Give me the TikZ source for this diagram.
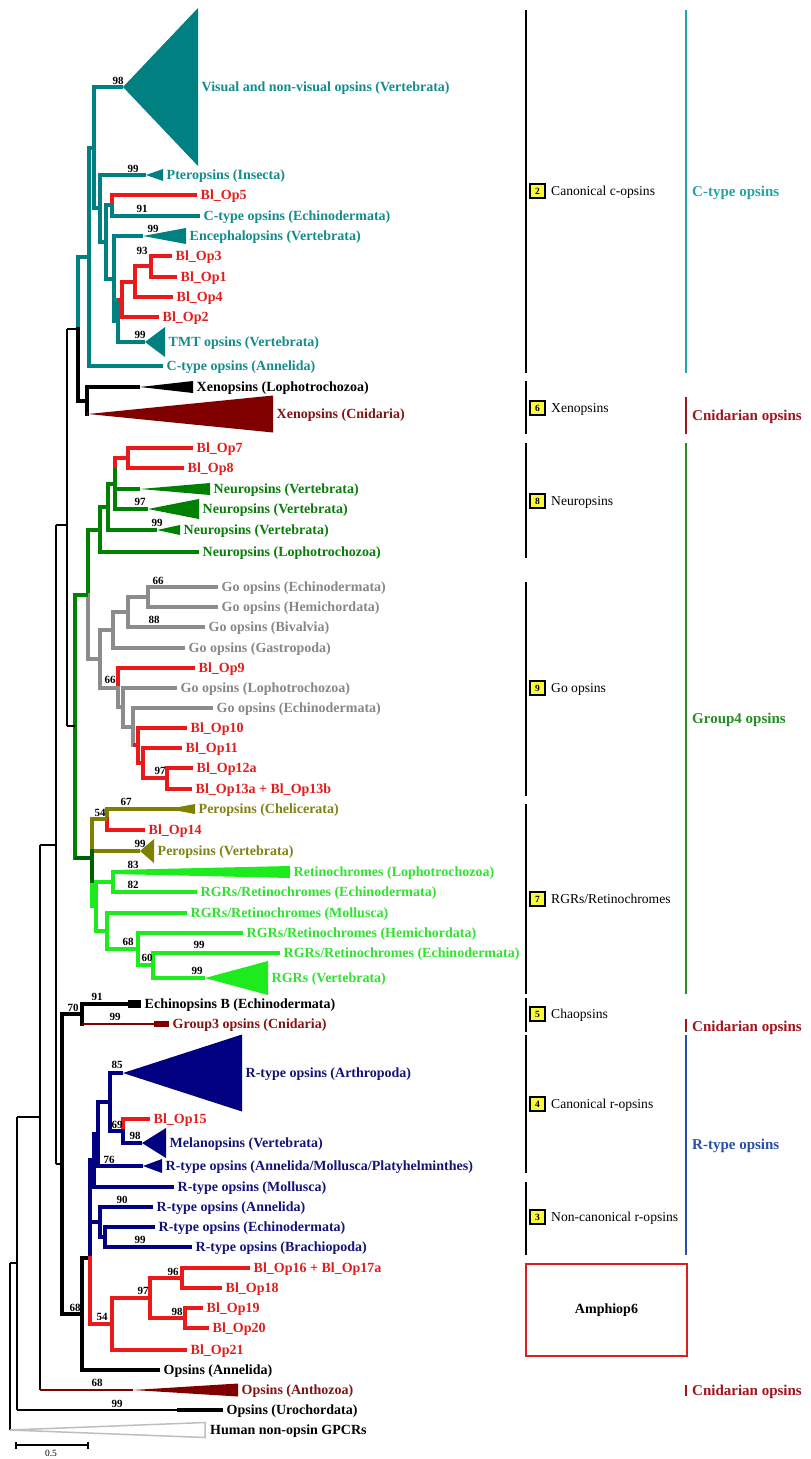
\documentclass[tikz,border=0pt]{standalone}
\usepackage{fontspec}
\setmainfont{Liberation Serif}
\usetikzlibrary{calc}
\definecolor{cteal}{RGB}{0,128,128}
\definecolor{cred}{RGB}{235,25,25}
\definecolor{cdred}{RGB}{128,0,0}
\definecolor{cgreen}{RGB}{0,128,0}
\definecolor{cdgreen}{RGB}{0,95,0}
\definecolor{cgrey}{RGB}{140,140,140}
\definecolor{colive}{RGB}{128,128,0}
\definecolor{clime}{RGB}{30,235,30}
\definecolor{cnavy}{RGB}{0,0,128}
\definecolor{tteal}{RGB}{20,140,140}
\definecolor{tred}{RGB}{225,30,30}
\definecolor{tgreen}{RGB}{10,125,10}
\definecolor{tgrey}{RGB}{135,135,135}
\definecolor{tolive}{RGB}{130,130,20}
\definecolor{tlime}{RGB}{50,225,50}
\definecolor{tnavy}{RGB}{20,20,120}
\definecolor{tdred}{RGB}{130,20,20}
\definecolor{hteal}{RGB}{35,165,165}
\definecolor{hdred}{RGB}{160,20,30}
\definecolor{hgreen}{RGB}{40,140,40}
\definecolor{hblue}{RGB}{40,80,170}
\definecolor{boxyel}{RGB}{250,250,60}
\definecolor{humgrey}{RGB}{190,190,190}
\definecolor{ampred}{RGB}{220,30,30}
\newcommand\BrL[3]{\draw[br,#1] (#2 |- #3) -- (#3.west);}
\newcommand\BrI[3]{\draw[br,#1] (#2 |- #3) -- (#3);}
\newcommand\BrV[4]{\draw[vb,#1] (#2 |- #3) -- (#2 |- #4);}
\newcommand\BrT[5]{\draw[br,#1] (#2 |- #3) -- (#4); \fill[#1] (#4) -- ($(#3.west)+(0,#5)$) -- ($(#3.west)+(0,-#5)$) -- cycle;}
\begin{document}
\begin{tikzpicture}[x=1pt,y=-1pt,
  br/.style={line width=4pt,line cap=butt},
  vb/.style={line width=4pt,line cap=rect},
  tn/.style={line width=1.2pt,black},
  lab/.style={anchor=west,inner xsep=3.5pt,inner ysep=0pt,text height=9.5pt,text depth=0pt,font=\bfseries\fontsize{14}{14}\selectfont},
  sv/.style={inner sep=0pt,font=\bfseries\fontsize{11}{11}\selectfont},
  bar/.style={line width=2.5pt},
  numbox/.style={draw=black,line width=2pt,fill=boxyel,minimum size=14.5pt,inner sep=0pt,font=\bfseries\fontsize{9.5}{9.5}\selectfont},
  cat/.style={anchor=west,inner sep=0pt,text height=8.5pt,text depth=0pt,font=\fontsize{13.6}{13.6}\selectfont},
  hdr/.style={anchor=west,inner sep=0pt,text height=10pt,text depth=0pt,font=\bfseries\fontsize{15}{15}\selectfont}]
\useasboundingbox (0,0) rectangle (811,1459);
\fill[white] (0,0) rectangle (811,1459);

% ---------- leaf labels ----------
\node[lab,text=tteal] (vis) at (198,87) {Visual and non-visual opsins (Vertebrata)};
\node[lab,text=tteal] (pter) at (163,175) {Pteropsins (Insecta)};
\node[lab,text=tred] (op5) at (197,195) {Bl\_Op5};
\node[lab,text=tteal] (cech) at (200,216) {C-type opsins (Echinodermata)};
\node[lab,text=tteal] (enc) at (186,236) {Encephalopsins (Vertebrata)};
\node[lab,text=tred] (op3) at (172,256) {Bl\_Op3};
\node[lab,text=tred] (op1) at (177,277) {Bl\_Op1};
\node[lab,text=tred] (op4) at (173,297) {Bl\_Op4};
\node[lab,text=tred] (op2) at (159,317) {Bl\_Op2};
\node[lab,text=tteal] (tmt) at (165,342) {TMT opsins (Vertebrata)};
\node[lab,text=tteal] (cann) at (163,366) {C-type opsins (Annelida)};
\node[lab,text=black] (xl) at (193,387) {Xenopsins (Lophotrochozoa)};
\node[lab,text=tdred] (xc) at (273,414) {Xenopsins (Cnidaria)};
\node[lab,text=tred] (op7) at (193,448) {Bl\_Op7};
\node[lab,text=tred] (op8) at (184,468) {Bl\_Op8};
\node[lab,text=tgreen] (nv1) at (210,489) {Neuropsins (Vertebrata)};
\node[lab,text=tgreen] (nv2) at (199,509) {Neuropsins (Vertebrata)};
\node[lab,text=tgreen] (nv3) at (180,530) {Neuropsins (Vertebrata)};
\node[lab,text=tgreen] (nl) at (199,552) {Neuropsins (Lophotrochozoa)};
\node[lab,text=tgrey] (ge1) at (218,587) {Go opsins (Echinodermata)};
\node[lab,text=tgrey] (gh) at (218,607) {Go opsins (Hemichordata)};
\node[lab,text=tgrey] (gb) at (205,627) {Go opsins (Bivalvia)};
\node[lab,text=tgrey] (gg) at (185,648) {Go opsins (Gastropoda)};
\node[lab,text=tred] (op9) at (195,668) {Bl\_Op9};
\node[lab,text=tgrey] (gl) at (177,688) {Go opsins (Lophotrochozoa)};
\node[lab,text=tgrey] (ge2) at (213,708) {Go opsins (Echinodermata)};
\node[lab,text=tred] (op10) at (187,728) {Bl\_Op10};
\node[lab,text=tred] (op11) at (182,748) {Bl\_Op11};
\node[lab,text=tred] (op12) at (193,768) {Bl\_Op12a};
\node[lab,text=tred] (op13) at (192,789) {Bl\_Op13a + Bl\_Op13b};
\node[lab,text=tolive] (pc) at (195,809) {Peropsins (Chelicerata)};
\node[lab,text=tred] (op14) at (145,830) {Bl\_Op14};
\node[lab,text=tolive] (pv) at (154,851) {Peropsins (Vertebrata)};
\node[lab,text=tlime] (rl) at (290,872) {Retinochromes (Lophotrochozoa)};
\node[lab,text=tlime] (re1) at (197,892) {RGRs/Retinochromes (Echinodermata)};
\node[lab,text=tlime] (rm) at (187,913) {RGRs/Retinochromes (Mollusca)};
\node[lab,text=tlime] (rh) at (243,933) {RGRs/Retinochromes (Hemichordata)};
\node[lab,text=tlime] (re2) at (280,953) {RGRs/Retinochromes (Echinodermata)};
\node[lab,text=tlime] (rv) at (268,978) {RGRs (Vertebrata)};
\node[lab,text=black] (eb) at (141,1004) {Echinopsins B (Echinodermata)};
\node[lab,text=tdred] (g3) at (169,1024) {Group3 opsins (Cnidaria)};
\node[lab,text=tnavy] (arth) at (242,1073) {R-type opsins (Arthropoda)};
\node[lab,text=tred] (op15) at (150,1119) {Bl\_Op15};
\node[lab,text=tnavy] (mel) at (166,1143) {Melanopsins (Vertebrata)};
\node[lab,text=tnavy] (amp) at (162,1166) {R-type opsins (Annelida/Mollusca/Platyhelminthes)};
\node[lab,text=tnavy] (rmo) at (174,1187) {R-type opsins (Mollusca)};
\node[lab,text=tnavy] (ran) at (153,1207) {R-type opsins (Annelida)};
\node[lab,text=tnavy] (rec) at (155,1227) {R-type opsins (Echinodermata)};
\node[lab,text=tnavy] (rbr) at (192,1247) {R-type opsins (Brachiopoda)};
\node[lab,text=tred] (op16) at (250,1268) {Bl\_Op16 + Bl\_Op17a};
\node[lab,text=tred] (op18) at (222,1288) {Bl\_Op18};
\node[lab,text=tred] (op19) at (203,1308) {Bl\_Op19};
\node[lab,text=tred] (op20) at (209,1328) {Bl\_Op20};
\node[lab,text=tred] (op21) at (187,1350) {Bl\_Op21};
\node[lab,text=black] (oan) at (160,1370) {Opsins (Annelida)};
\node[lab,text=tdred] (anth) at (238,1390) {Opsins (Anthozoa)};
\node[lab,text=black] (uro) at (223,1410) {Opsins (Urochordata)};
\node[lab,text=black,inner xsep=5pt] (hum) at (205,1430) {Human non-opsin GPCRs};

% ---------- internal nodes ----------
\coordinate (r3) at (151,266);
\coordinate (r2) at (135,282);
\coordinate (r1) at (122,300);
\coordinate (ng) at (118,321);
\coordinate (nf) at (114,279);
\coordinate (ne) at (112,205);
\coordinate (nd) at (106,242);
\coordinate (nc) at (100,208);
\coordinate (nb) at (94,148);
\coordinate (na) at (89,257);
\coordinate (nx) at (87,401);
\coordinate (k0) at (78,329);
\coordinate (k1) at (67,525);
\coordinate (k2) at (56,845);
\coordinate (k3) at (40,1117);
\coordinate (k4) at (17,1263);
\coordinate (k5) at (10,1263);
\coordinate (visA) at (123,87);
\coordinate (pterA) at (146,175);
\coordinate (encA) at (143,236);
\coordinate (tmtA) at (145,342);
\coordinate (xlA) at (140,387);
\coordinate (xcA) at (88,414);
\coordinate (r78) at (128,458);
\coordinate (gna) at (115,484);
\coordinate (gnaS) at (115,470);
\coordinate (gnb) at (108,507);
\coordinate (gnc) at (100,530);
\coordinate (gnd) at (88,595);
\coordinate (nv1A) at (140,489);
\coordinate (nv2A) at (148,509);
\coordinate (nv3A) at (157,530);
\coordinate (go1) at (148,597);
\coordinate (go2) at (128,612);
\coordinate (go3) at (113,630);
\coordinate (go4) at (100,659);
\coordinate (gp) at (118,688);
\coordinate (gq) at (123,707);
\coordinate (gr) at (133,727);
\coordinate (gs) at (138,745);
\coordinate (gt) at (143,763);
\coordinate (gu) at (167,778);
\coordinate (o2) at (107,819);
\coordinate (o1) at (92,835);
\coordinate (pvA) at (140,851);
\coordinate (rg2) at (113,882);
\coordinate (rg1) at (96,906);
\coordinate (rg107) at (107,931);
\coordinate (rg138) at (138,949);
\coordinate (rg153) at (153,965);
\coordinate (rvA) at (205,978);
\coordinate (nf4) at (92,858);
\coordinate (nf4b) at (92,885);
\coordinate (ne4) at (75,726);
\coordinate (e70) at (82,1014);
\coordinate (bk) at (62,1164);
\coordinate (n68) at (82,1314);
\coordinate (nb90) at (90,1258);
\coordinate (n112) at (112,1324);
\coordinate (n150) at (150,1298);
\coordinate (n182) at (182,1278);
\coordinate (n185) at (185,1318);
\coordinate (n123) at (123,1131);
\coordinate (n110) at (110,1102);
\coordinate (b1) at (98,1134);
\coordinate (b2) at (94,1160);
\coordinate (b3) at (90,1191);
\coordinate (n100) at (100,1222);
\coordinate (n105) at (105,1237);
\coordinate (arthA) at (123,1073);
\coordinate (melA) at (142,1143);
\coordinate (ampA) at (143,1166);
\coordinate (anthA) at (133,1390);
\coordinate (uroA) at (177,1410);

% ---------- canonical c-opsins ----------
\BrV{cred}{r3}{op3}{op1} \BrL{cred}{r3}{op3} \BrL{cred}{r3}{op1}
\BrV{cred}{r2}{r3}{op4} \BrI{cred}{r2}{r3} \BrL{cred}{r2}{op4}
\BrV{cred}{r1}{r2}{op2} \BrI{cred}{r1}{r2} \BrL{cred}{r1}{op2}
\BrV{cteal}{ng}{r1}{tmt} \BrI{cred}{ng}{r1} \BrT{cteal}{ng}{tmt}{tmtA}{15}
\BrV{cteal}{nf}{enc}{ng} \BrT{cteal}{nf}{enc}{encA}{8} \BrI{cteal}{nf}{ng}
\BrV{cred}{ne}{op5}{ne} \BrV{cteal}{ne}{ne}{cech} \BrL{cred}{ne}{op5} \BrL{cteal}{ne}{cech}
\BrV{cteal}{nd}{ne}{nf} \BrI{cteal}{nd}{ne} \BrI{cteal}{nd}{nf}
\BrV{cteal}{nc}{pter}{nd} \BrT{cteal}{nc}{pter}{pterA}{6} \BrI{cteal}{nc}{nd}
\BrV{cteal}{nb}{vis}{nc} \BrT{cteal}{nb}{vis}{visA}{79} \BrI{cteal}{nb}{nc}
\BrV{cteal}{na}{nb}{cann} \BrI{cteal}{na}{nb} \BrL{cteal}{na}{cann}
% xenopsins
\BrV{black}{nx}{xl}{xc} \BrT{black}{nx}{xl}{xlA}{6}
\fill[cdred] (xcA) -- ($(xc.west)+(0,-18.5)$) -- ($(xc.west)+(0,18.5)$) -- cycle;
\draw[br,cdred] (nx |- xc) -- (xcA);
\BrV{cteal}{k0}{na}{k0} \BrV{black}{k0}{k0}{nx} \BrI{cteal}{k0}{na} \BrI{black}{k0}{nx}

% ---------- group 4 ----------
\BrV{cred}{r78}{op7}{op8} \BrL{cred}{r78}{op7} \BrL{cred}{r78}{op8}
\BrV{cred}{gna}{r78}{gnaS} \BrV{cgreen}{gna}{gnaS}{nv2} \BrI{cred}{gna}{r78}
\BrT{cgreen}{gna}{nv1}{nv1A}{6} \BrT{cgreen}{gna}{nv2}{nv2A}{10}
\BrV{cgreen}{gnb}{gna}{nv3} \BrI{cgreen}{gnb}{gna} \BrT{cgreen}{gnb}{nv3}{nv3A}{5}
\BrV{cgreen}{gnc}{gnb}{nl} \BrI{cgreen}{gnc}{gnb} \BrL{cgreen}{gnc}{nl}
\BrV{cgrey}{go1}{ge1}{gh} \BrL{cgrey}{go1}{ge1} \BrL{cgrey}{go1}{gh}
\BrV{cgrey}{go2}{go1}{gb} \BrI{cgrey}{go2}{go1} \BrL{cgrey}{go2}{gb}
\BrV{cgrey}{go3}{go2}{gg} \BrI{cgrey}{go3}{go2} \BrL{cgrey}{go3}{gg}
\BrV{cred}{gu}{op12}{op13} \BrL{cred}{gu}{op12} \BrL{cred}{gu}{op13}
\BrV{cred}{gt}{op11}{gu} \BrL{cred}{gt}{op11} \BrI{cred}{gt}{gu}
\BrV{cred}{gs}{op10}{gt} \BrL{cred}{gs}{op10} \BrI{cred}{gs}{gt}
\BrV{cgrey}{gr}{ge2}{gs} \BrL{cgrey}{gr}{ge2} \BrI{cred}{gr}{gs}
\BrV{cgrey}{gq}{gl}{gr} \BrL{cgrey}{gq}{gl} \BrI{cgrey}{gq}{gr}
\BrV{cred}{gp}{op9}{gp} \BrV{cgrey}{gp}{gp}{gq} \BrL{cred}{gp}{op9} \BrI{cgrey}{gp}{gq}
\BrV{cgrey}{go4}{go3}{gp} \BrI{cgrey}{go4}{go3} \BrI{cgrey}{go4}{gp}
\BrV{cgreen}{gnd}{gnc}{gnd} \BrV{cgrey}{gnd}{gnd}{go4} \BrI{cgreen}{gnd}{gnc} \BrI{cgrey}{gnd}{go4}
% peropsins
\BrV{colive}{o2}{pc}{o2} \BrV{cred}{o2}{o2}{op14} \BrL{colive}{o2}{pc} \BrL{cred}{o2}{op14}
\fill[colive] ($(pc.west)+(-16,-2)$) -- ($(pc.west)+(0,-5)$) -- ($(pc.west)+(0,5)$) -- ($(pc.west)+(-16,2)$) -- cycle;
\BrV{colive}{o1}{o2}{pv} \BrI{colive}{o1}{o2} \BrT{colive}{o1}{pv}{pvA}{12}
% RGRs
\BrV{clime}{rg2}{rl}{re1} \BrL{clime}{rg2}{re1}
\fill[clime] ($(rg2 |- rl)+(0,-2)$) -- ($(rl.west)+(0,-6)$) -- ($(rl.west)+(0,6)$) -- ($(rg2 |- rl)+(0,2)$) -- cycle;
\BrV{clime}{rg153}{re2}{rv} \BrL{clime}{rg153}{re2} \BrT{clime}{rg153}{rv}{rvA}{17}
\BrV{clime}{rg138}{rh}{rg153} \BrL{clime}{rg138}{rh} \BrI{clime}{rg138}{rg153}
\BrV{clime}{rg107}{rm}{rg138} \BrL{clime}{rg107}{rm} \BrI{clime}{rg107}{rg138}
\BrV{clime}{rg1}{rg2}{rg107} \BrI{clime}{rg1}{rg2} \BrI{clime}{rg1}{rg107}
\BrV{cdgreen}{nf4}{pv}{nf4b} \BrV{clime}{nf4}{nf4b}{rg1} \BrI{clime}{nf4}{rg1}
\BrV{cgreen}{ne4}{gnd}{nf4} \BrI{cgreen}{ne4}{gnd} \BrI{cdgreen}{ne4}{nf4}

% ---------- r-opsins and relatives ----------
\BrV{black}{e70}{eb}{g3} \BrL{black}{e70}{eb}
\fill[black] ($(eb.west)+(-13,-4)$) rectangle ($(eb.west)+(0,4)$);
\draw[line width=2.5pt,cdred] (e70 |- g3) -- (g3.west);
\fill[cdred] ($(g3.west)+(-15,-3)$) rectangle ($(g3.west)+(0,3)$);
\BrV{black}{bk}{e70}{n68} \BrI{black}{bk}{e70} \BrI{black}{bk}{n68}
\BrV{black}{n68}{nb90}{oan} \BrI{black}{n68}{nb90} \BrL{black}{n68}{oan}
\BrV{cred}{n185}{op19}{op20} \BrL{cred}{n185}{op19} \BrL{cred}{n185}{op20}
\BrV{cred}{n182}{op16}{op18} \BrL{cred}{n182}{op16} \BrL{cred}{n182}{op18}
\BrV{cred}{n150}{n182}{n185} \BrI{cred}{n150}{n182} \BrI{cred}{n150}{n185}
\BrV{cred}{n112}{n150}{op21} \BrI{cred}{n112}{n150} \BrL{cred}{n112}{op21}
\BrV{cred}{n123}{op15}{n123} \BrV{cnavy}{n123}{n123}{mel} \BrL{cred}{n123}{op15} \BrT{cnavy}{n123}{mel}{melA}{15}
\BrV{cnavy}{n110}{arth}{n123} \BrT{cnavy}{n110}{arth}{arthA}{38.5} \BrI{cnavy}{n110}{n123}
\BrV{cnavy}{b1}{n110}{amp} \BrI{cnavy}{b1}{n110} \BrT{cnavy}{b1}{amp}{ampA}{7}
\BrV{cnavy}{b2}{b1}{rmo} \BrI{cnavy}{b2}{b1} \BrL{cnavy}{b2}{rmo}
\BrV{cnavy}{n105}{rec}{rbr} \BrL{cnavy}{n105}{rec} \BrL{cnavy}{n105}{rbr}
\BrV{cnavy}{n100}{ran}{n105} \BrL{cnavy}{n100}{ran} \BrI{cnavy}{n100}{n105}
\BrV{cnavy}{b3}{b2}{n100} \BrI{cnavy}{b3}{b2} \BrI{cnavy}{b3}{n100}
\BrV{cnavy}{nb90}{b3}{nb90} \BrV{cred}{nb90}{nb90}{n112} \BrI{cred}{nb90}{n112}

% ---------- thin backbone ----------
\draw[tn] (k1 |- k0) -- (k1 |- ne4);
\draw[tn] (k1 |- k0) -- (k0);
\draw[tn] (k1 |- ne4) -- (ne4);
\draw[tn] (k2 |- k1) -- (k2 |- bk);
\draw[tn] (k2 |- k1) -- (k1);
\draw[tn] (k2 |- bk) -- (bk);
\draw[tn] (k3 |- k2) -- (k3 |- anth);
\draw[tn] (k3 |- k2) -- (k2);
\draw[line width=2.5pt,cdred] (k3 |- anth) -- (anthA);
\fill[cdred] (anthA) -- ($(anth.west)+(0,-6.5)$) -- ($(anth.west)+(0,6.5)$) -- cycle;
\draw[tn] (k4 |- k3) -- (k4 |- uro);
\draw[tn] (k4 |- k3) -- (k3);
\draw[tn] (k4 |- uro) -- (uroA);
\draw[line width=3.5pt] (uroA) -- (uro.west);
\draw[tn] (k5) -- (k5 |- hum);
\draw[tn] (k5) -- (k4);
\draw[line width=1.5pt,humgrey,fill=white] (k5 |- hum) -- ($(hum.west)+(0,-7.5)$) -- ($(hum.west)+(0,7.5)$) -- cycle;

% ---------- support values ----------
\node[sv] (s1) at (118,81) {98};
\node[sv] (s2) at (133,169) {99};
\node[sv] (s3) at (142,209) {91};
\node[sv] (s4) at (153,229) {99};
\node[sv] (s5) at (142,251) {93};
\node[sv] (s6) at (140,335) {99};
\node[sv] (s7) at (140,502) {97};
\node[sv] (s8) at (157,523) {99};
\node[sv] (s9) at (158,581) {66};
\node[sv] (s10) at (154,620) {88};
\node[sv] (s11) at (110,680) {66};
\node[sv] (s12) at (160,771) {97};
\node[sv] (s13) at (126,802) {67};
\node[sv] (s14) at (100,813) {54};
\node[sv] (s15) at (140,844) {99};
\node[sv] (s16) at (133,865) {83};
\node[sv] (s17) at (133,885) {82};
\node[sv] (s18) at (128,942) {68};
\node[sv] (s19) at (199,945) {99};
\node[sv] (s20) at (147,958) {60};
\node[sv] (s21) at (197,971) {99};
\node[sv] (s22) at (97,997) {91};
\node[sv] (s23) at (73,1008) {70};
\node[sv] (s24) at (115,1017) {99};
\node[sv] (s25) at (117,1065) {85};
\node[sv] (s26) at (117,1125) {69};
\node[sv] (s27) at (135,1136) {98};
\node[sv] (s28) at (109,1160) {76};
\node[sv] (s29) at (122,1200) {90};
\node[sv] (s30) at (140,1240) {99};
\node[sv] (s31) at (173,1272) {96};
\node[sv] (s32) at (143,1291) {97};
\node[sv] (s33) at (177,1312) {98};
\node[sv] (s34) at (102,1317) {54};
\node[sv] (s35) at (75,1308) {68};
\node[sv] (s36) at (97,1383) {68};
\node[sv] (s37) at (117,1404) {99};

% ---------- scale bar ----------
\coordinate (sb1) at (16,1445);
\coordinate (sb2) at (88,1445);
\draw[tn] (sb1) -- (sb2);
\draw[tn] ($(sb1)+(0,-3.5)$) -- ($(sb1)+(0,3.5)$);
\draw[tn] ($(sb2)+(0,-3.5)$) -- ($(sb2)+(0,3.5)$);
\node[inner sep=0pt,font=\fontsize{9.5}{9.5}\selectfont] (sbl) at (51,1453) {0.5};

% ---------- clade bars ----------
\draw[bar] (526,10) -- (526,373);
\draw[bar] (526,381) -- (526,434);
\draw[bar] (526,443) -- (526,558);
\draw[bar] (526,582) -- (526,796);
\draw[bar] (526,804) -- (526,994);
\draw[bar] (526,998) -- (526,1032);
\draw[bar] (526,1035) -- (526,1173);
\draw[bar] (526,1182) -- (526,1255);
\node[numbox] (bx2) at (537.5,191) {2};
\node[cat] (t2) at (551,191) {Canonical c-opsins};
\node[numbox] (bx6) at (537.5,408) {6};
\node[cat] (t6) at (551,408) {Xenopsins};
\node[numbox] (bx8) at (537.5,501) {8};
\node[cat] (t8) at (551,501) {Neuropsins};
\node[numbox] (bx9) at (537.5,688) {9};
\node[cat] (t9) at (551,688) {Go opsins};
\node[numbox] (bx7) at (537.5,899) {7};
\node[cat] (t7) at (551,899) {RGRs/Retinochromes};
\node[numbox] (bx5) at (537.5,1014) {5};
\node[cat] (t5) at (551,1014) {Chaopsins};
\node[numbox] (bx4) at (537.5,1104) {4};
\node[cat] (t4) at (551,1104) {Canonical r-opsins};
\node[numbox] (bx3) at (537.5,1217) {3};
\node[cat] (t3) at (551,1217) {Non-canonical r-opsins};
\node[draw=ampred,line width=2.5pt,minimum width=161pt,minimum height=92pt,inner sep=0pt,font=\bfseries\fontsize{14}{14}\selectfont] (amph) at (606.5,1310) {Amphiop6};

\draw[bar,hteal] (686,10) -- (686,373);
\node[hdr,text=hteal] (h1) at (692,191) {C-type opsins};
\draw[bar,hdred] (686,397) -- (686,434);
\node[hdr,text=hdred] (h2) at (692,415) {Cnidarian opsins};
\draw[bar,hgreen] (686,443) -- (686,994);
\node[hdr,text=hgreen] (h3) at (692,718) {Group4 opsins};
\draw[bar,hdred] (686,1019) -- (686,1032);
\node[hdr,text=hdred] (h4) at (692,1026) {Cnidarian opsins};
\draw[bar,hblue] (686,1035) -- (686,1255);
\node[hdr,text=hblue] (h5) at (692,1144) {R-type opsins};
\draw[bar,hdred] (686,1385) -- (686,1396);
\node[hdr,text=hdred] (h6) at (692,1390) {Cnidarian opsins};
\end{tikzpicture}
\end{document}
